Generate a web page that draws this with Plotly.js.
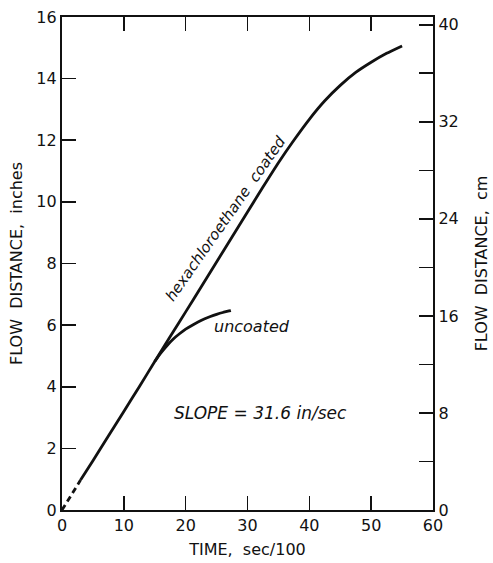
<!DOCTYPE html>
<html>
<head>
<meta charset="utf-8">
<script src="https://cdn.plot.ly/plotly-3.0.1.min.js"></script>
<style>html,body{margin:0;padding:0;background:#fff;}#chart{width:493px;height:563px;}</style>
</head>
<body>
<div id="chart"></div>
<script>
// Data (time in sec/100, flow distance in inches)
var dashTime = [0, 3];
var dashDist = [0, 0.97];
var coatedTime = [3, 5, 7.5, 10, 12.5, 15, 17.5, 20, 22.5, 25, 27.5, 30, 32.5, 35, 37.5, 40, 42.5, 45, 47.5, 50, 52.5, 55];
var coatedDist = [0.97, 1.6, 2.4, 3.2, 4.0, 4.82, 5.63, 6.43, 7.24, 8.05, 8.86, 9.67, 10.48, 11.27, 12.0, 12.68, 13.28, 13.78, 14.2, 14.53, 14.82, 15.06];
var uncoatedTime = [15, 16, 17, 18, 19, 20, 21, 22, 23, 24, 25, 26, 27, 27.3];
var uncoatedDist = [4.82, 5.1, 5.34, 5.55, 5.72, 5.87, 5.99, 6.1, 6.2, 6.28, 6.35, 6.41, 6.46, 6.48];
var xTicks = [0, 10, 20, 30, 40, 50, 60];
var yTicksIn = [0, 2, 4, 6, 8, 10, 12, 14, 16];
var yTicksCm = [0, 4, 8, 12, 16, 20, 24, 28, 32, 36, 40];
var yTickCmText = ['0', '', '8', '', '16', '', '24', '', '32', '', '40'];

var ink = '#111';
var fnt = {family: 'DejaVu Sans', size: 16, color: ink};

var traces = [
  {x: dashTime, y: dashDist, mode: 'lines', line: {color: ink, width: 2.8, dash: '6px,4px'}, xaxis: 'x', yaxis: 'y', hoverinfo: 'skip'},
  {x: coatedTime, y: coatedDist, mode: 'lines', line: {color: ink, width: 2.8, shape: 'spline', smoothing: 0.5}, xaxis: 'x', yaxis: 'y'},
  {x: uncoatedTime, y: uncoatedDist, mode: 'lines', line: {color: ink, width: 2.8, shape: 'spline', smoothing: 0.5}, xaxis: 'x', yaxis: 'y'},
  {x: [0], y: [0], mode: 'markers', marker: {opacity: 0}, xaxis: 'x', yaxis: 'y2', hoverinfo: 'skip'}
];

var layout = {
  width: 493, height: 563,
  margin: {l: 62, r: 60, t: 17, b: 53},
  paper_bgcolor: '#fff', plot_bgcolor: '#fff',
  showlegend: false,
  font: fnt,
  xaxis: {
    range: [0, 60], tickvals: xTicks, ticks: 'inside', ticklen: 14, tickwidth: 1.6, tickcolor: ink,
    showline: true, linewidth: 2.2, linecolor: ink, mirror: 'ticks', showgrid: false, zeroline: false,
    tickfont: fnt,
    title: {text: 'TIME,  sec/100', font: fnt, standoff: 9}
  },
  yaxis: {
    range: [0, 16], tickvals: yTicksIn, ticks: 'inside', ticklen: 14, tickwidth: 1.6, tickcolor: ink,
    showline: true, linewidth: 2.2, linecolor: ink, showgrid: false, zeroline: false,
    tickfont: fnt,
    title: {text: 'FLOW  DISTANCE,  inches', font: fnt, standoff: 10}
  },
  yaxis2: {
    overlaying: 'y', side: 'right', range: [0, 16 * 2.54],
    tickvals: yTicksCm, ticktext: yTickCmText, ticks: 'inside', ticklen: 14, tickwidth: 1.6, tickcolor: ink,
    showline: true, linewidth: 2.2, linecolor: ink, showgrid: false, zeroline: false,
    tickfont: fnt,
    title: {text: 'FLOW  DISTANCE,  cm', font: fnt, standoff: 18}
  },
  annotations: [
    {x: 26.4, y: 9.45, xref: 'x', yref: 'y', text: '<i>hexachloroethane  coated</i>', showarrow: false, textangle: -55, font: {family: 'DejaVu Sans', size: 15, color: ink}},
    {x: 30.7, y: 5.97, xref: 'x', yref: 'y', text: '<i>uncoated</i>', showarrow: false, font: {family: 'DejaVu Sans', size: 16, color: ink}},
    {x: 32.1, y: 3.15, xref: 'x', yref: 'y', text: '<i>SLOPE = 31.6 in/sec</i>', showarrow: false, font: {family: 'DejaVu Sans', size: 17, color: ink}}
  ]
};

Plotly.newPlot('chart', traces, layout, {displayModeBar: false, staticPlot: true});
</script>
</body>
</html>
